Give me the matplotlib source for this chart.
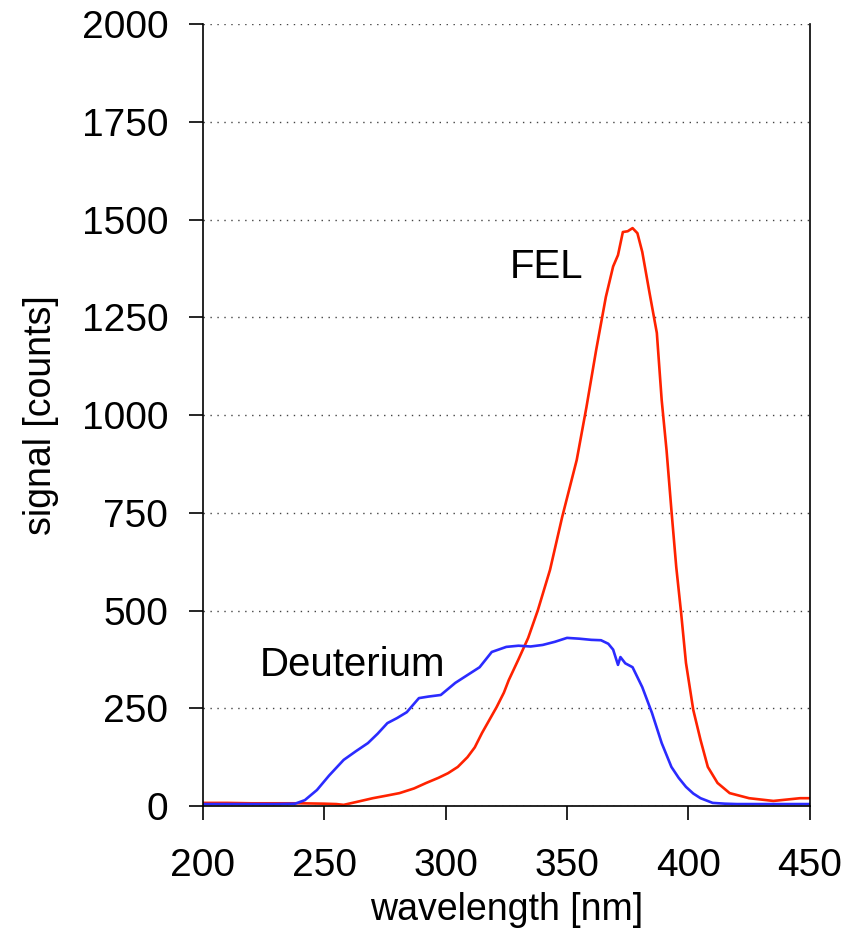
import matplotlib
matplotlib.use("Agg")
from matplotlib import pyplot as plt

plt.rcParams['font.family'] = ['Liberation Sans', 'DejaVu Sans']

# Deuterium lamp spectrum
deut_nm = [200, 210, 220, 230, 238, 242, 247, 252, 258, 263, 268, 272, 276, 280,
           284, 289, 293, 298, 304, 309, 314, 319, 325, 330, 335, 340, 345, 350,
           355, 360, 364, 367, 369, 371, 372, 374, 377, 381, 385, 389, 393, 396,
           399, 402, 405, 410, 415, 420, 430, 440, 450]
deut_cnt = [5, 5, 5, 5, 6, 15, 41, 78, 118, 140, 161, 185, 212, 225,
            240, 276, 280, 284, 315, 335, 355, 394, 407, 410, 408, 412, 420, 430,
            428, 425, 424, 415, 400, 361, 381, 365, 355, 304, 238, 161, 100, 72,
            49, 32, 20, 8, 6, 5, 5, 5, 5]

# FEL spectrum
fel_nm = [200, 210, 220, 230, 240, 250, 255, 258, 263, 270, 276, 281, 287, 292,
          297, 301, 305, 309, 312, 315, 318, 321, 324, 326, 330, 334, 338, 343,
          348, 354, 358, 362, 366, 369, 371, 373, 375, 377, 379, 381, 384, 387,
          389, 391, 393, 395, 397, 399, 402, 405, 408, 412, 417, 425, 435, 446, 450]
fel_cnt = [8, 8, 7, 7, 7, 6, 5, 3, 10, 20, 27, 33, 45, 59,
           72, 84, 100, 125, 150, 187, 220, 253, 290, 322, 375, 430, 501, 604,
           739, 885, 1020, 1166, 1302, 1380, 1409, 1468, 1470, 1478, 1465, 1417, 1312, 1210,
           1038, 910, 757, 611, 494, 366, 246, 169, 100, 59, 33, 20, 13, 20, 20]

fig = plt.figure(figsize=(8.56, 9.38), dpi=100)
ax = fig.add_axes([0.237, 0.1407, 0.709, 0.8337])

ax.plot(fel_nm, fel_cnt, color='#ff2200', lw=1.9)
ax.plot(deut_nm, deut_cnt, color='#2b2bff', lw=1.9)

ax.set_xlim(200, 450)
ax.set_ylim(0, 2000)
ax.set_xticks([200, 250, 300, 350, 400, 450])
ax.set_yticks(range(0, 2001, 250))
ax.yaxis.grid(True, linestyle=(0, (1, 4)), color='#444444', lw=1.0)
ax.set_axisbelow(True)
ax.spines['top'].set_visible(False)
for s in ['left', 'bottom', 'right']:
    ax.spines[s].set_linewidth(1.2)
ax.tick_params(direction='out', length=10, width=1.2, labelsize=28)
ax.tick_params(axis='x', pad=20)
ax.tick_params(axis='y', pad=15)

ax.set_xlabel("wavelength [nm]", fontsize=27, labelpad=6)
ax.set_ylabel("signal [counts]", fontsize=27, labelpad=16)

ax.text(341.7, 1378, "FEL", fontsize=29, ha='center', va='center')
ax.text(261.8, 360, "Deuterium", fontsize=29, ha='center', va='center')

fig.savefig("out.png", dpi=100)
